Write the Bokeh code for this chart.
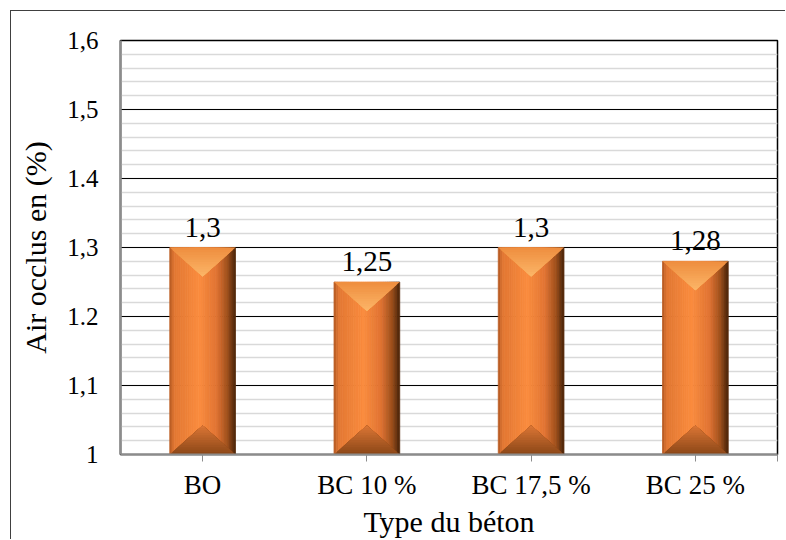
from bokeh.plotting import figure
from bokeh.models import FixedTicker, SingleIntervalTicker, Range1d
from bokeh.core.properties import value
from bokeh.embed import file_html
from bokeh.resources import INLINE

# --- data -------------------------------------------------------------
categories = ["BO", "BC 10 %", "BC 17,5 %", "BC 25 %"]
air_values = [1.30, 1.25, 1.30, 1.28]
y_ticks = [1.0, 1.1, 1.2, 1.3, 1.4, 1.5, 1.6]

FONT = "Liberation Serif"
BASE = 1.0
BAR_W = 0.40          # fraction of a category slot
BEVEL = 0.042         # depth of the bevel triangles, in y units


def hex2rgb(h):
    h = h.lstrip("#")
    return tuple(int(h[i:i + 2], 16) for i in (0, 2, 4))


def rgb2hex(c):
    return "#%02x%02x%02x" % tuple(max(0, min(255, int(round(v)))) for v in c)


def ramp(stops, t):
    for (t0, c0), (t1, c1) in zip(stops, stops[1:]):
        if t0 <= t <= t1:
            f = 0 if t1 == t0 else (t - t0) / (t1 - t0)
            a, b = hex2rgb(c0), hex2rgb(c1)
            return rgb2hex([a[i] + (b[i] - a[i]) * f for i in range(3)])
    return stops[-1][1]


# horizontal shading across the bar body
body_stops = [(0.0, "#b05620"), (0.07, "#e27733"), (0.45, "#fa8c3e"),
              (0.72, "#e07332"), (0.88, "#a0501c"), (1.0, "#4a2408")]
top_stops = [(0.0, "#ef8f40"), (1.0, "#fbb466")]      # top bevel, edge -> apex
bot_stops = [(0.0, "#8e4818"), (1.0, "#d87434")]      # bottom bevel, edge -> apex

p = figure(width=775, height=529, output_backend="svg", toolbar_location=None,
           x_range=Range1d(0, len(categories)), y_range=Range1d(y_ticks[0], y_ticks[-1]),
           min_border_left=109, min_border_right=9, min_border_top=29,
           min_border_bottom=84, background_fill_color="white",
           border_fill_color="white")
p.margin = (10, 0, 0, 10)
p.styles = {"border-left": "1px solid #404040", "border-top": "1px solid #404040"}

centers = [i + 0.5 for i in range(len(categories))]
half = BAR_W / 2

# bar bodies as thin vertical strips to give a cylindrical shading
N = 30
lefts, rights, tops, bottoms, colors = [], [], [], [], []
for c, v in zip(centers, air_values):
    for k in range(N):
        l = c - half + BAR_W * k / N
        r = c - half + BAR_W * (k + 1) / N
        lefts.append(l); rights.append(r); tops.append(v); bottoms.append(BASE)
        colors.append(ramp(body_stops, (k + 0.5) / N))
p.quad(left=lefts, right=rights, top=tops, bottom=bottoms,
       fill_color=colors, line_color=colors, line_width=0.8)

# top bevel: downward triangles, lighter toward the apex
M = 12
xs, ys, cols = [], [], []
for c, v in zip(centers, air_values):
    apex = v - BEVEL
    for k in range(M):
        s = 1 - k / M
        xs.append([c - half * s, c + half * s, c])
        ys.append([apex + BEVEL * s, apex + BEVEL * s, apex])
        cols.append(ramp(top_stops, k / (M - 1)))
p.patches(xs, ys, fill_color=cols, line_color=None)

# bottom bevel: upward triangles, darker toward the base
xs, ys, cols = [], [], []
for c, v in zip(centers, air_values):
    apex = BASE + BEVEL
    for k in range(M):
        s = 1 - k / M
        xs.append([c - half * s, c + half * s, c])
        ys.append([apex - BEVEL * s, apex - BEVEL * s, apex])
        cols.append(ramp(bot_stops, k / (M - 1)))
p.patches(xs, ys, fill_color=cols, line_color=None)

# value labels above the bars
labels = [f"{v:g}".replace(".", ",") for v in air_values]
p.text(x=centers, y=air_values, text=labels, text_align="center",
       text_baseline="bottom", y_offset=-11, text_font_size="29px",
       text_font=value(FONT), text_color="black")

# grid
p.xgrid.visible = False
p.yaxis.ticker = SingleIntervalTicker(interval=0.1, num_minor_ticks=5)
p.ygrid.grid_line_color = "black"
p.ygrid.grid_line_width = 1
p.ygrid.minor_grid_line_color = "#d9d9d9"
p.ygrid.minor_grid_line_width = 1.5
p.ygrid.level = "underlay"

p.outline_line_color = "black"
p.outline_line_width = 1.5

# y axis
p.yaxis.major_label_overrides = {t: f"{t:g}".replace(".", ",") for t in y_ticks}
p.yaxis.major_tick_out = 0
p.yaxis.major_tick_in = 0
p.yaxis.minor_tick_out = 0
p.yaxis.minor_tick_in = 0
p.yaxis.axis_line_color = "#8c8c8c"
p.yaxis.axis_line_width = 2.5
p.yaxis.major_label_standoff = 22
p.yaxis.major_label_text_font = FONT
p.yaxis.major_label_text_font_size = "25px"
p.yaxis.major_label_text_color = "black"
p.yaxis.axis_label = "Air occlus en (%)"
p.yaxis.axis_label_text_font = FONT
p.yaxis.axis_label_text_font_size = "30px"
p.yaxis.axis_label_text_font_style = "normal"
p.yaxis.axis_label_text_color = "black"
p.yaxis.axis_label_standoff = 12

# x axis
p.xaxis.ticker = FixedTicker(ticks=centers + [len(categories)])
overrides = {c: name for c, name in zip(centers, categories)}
overrides[len(categories)] = ""
p.xaxis.major_label_overrides = overrides
p.xaxis.major_tick_out = 7
p.xaxis.major_tick_in = 0
p.xaxis.major_tick_line_color = "#8c8c8c"
p.xaxis.minor_tick_out = 0
p.xaxis.axis_line_color = "#8c8c8c"
p.xaxis.axis_line_width = 2
p.xaxis.major_label_standoff = 8
p.xaxis.major_label_text_font = FONT
p.xaxis.major_label_text_font_size = "27px"
p.xaxis.major_label_text_color = "black"
p.xaxis.axis_label = "Type du béton"
p.xaxis.axis_label_text_font = FONT
p.xaxis.axis_label_text_font_size = "30px"
p.xaxis.axis_label_text_font_style = "normal"
p.xaxis.axis_label_text_color = "black"
p.xaxis.axis_label_standoff = 2

open("out.html", "w").write(file_html(p, INLINE))
